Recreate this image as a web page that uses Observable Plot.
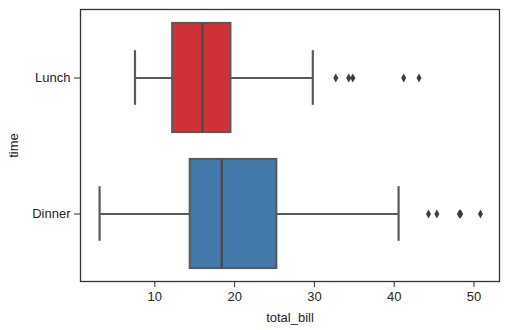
<!DOCTYPE html>
<html>
<head>
<meta charset="utf-8">
<script src="https://cdn.jsdelivr.net/npm/d3@7"></script>
<script src="https://cdn.jsdelivr.net/npm/@observablehq/plot@0.6"></script>
<style>
  html, body { margin: 0; padding: 0; background: #fff; }
  #chart svg { display: block; }
</style>
</head>
<body>
<div id="chart"></div>
<script>
// Summary statistics
const times = ["Lunch", "Dinner"];
const whiskerLow = [7.51, 3.07];
const q1 = [12.24, 14.44];
const median = [15.97, 18.39];
const q3 = [19.53, 25.28];
const whiskerHigh = [29.80, 40.55];
const colors = ["#cf3236", "#4479ad"];
const outlierTime = ["Lunch", "Lunch", "Lunch", "Lunch", "Lunch",
                     "Dinner", "Dinner", "Dinner", "Dinner", "Dinner", "Dinner"];
const outlierBill = [32.68, 34.30, 34.81, 41.19, 43.11,
                     44.30, 45.35, 48.17, 48.27, 48.33, 50.81];
const xTicks = [10, 20, 30, 40, 50];

const boxes = times.map((t, i) => ({
  time: t, lo: whiskerLow[i], q1: q1[i], med: median[i], q3: q3[i], hi: whiskerHigh[i], color: colors[i]
}));
const outliers = outlierBill.map((v, i) => ({time: outlierTime[i], bill: v}));

const thinDiamond = {
  draw(context, size) {
    const h = Math.sqrt(size) * 0.95;
    const w = h * 0.55;
    context.moveTo(0, -h);
    context.lineTo(w, 0);
    context.lineTo(0, h);
    context.lineTo(-w, 0);
    context.closePath();
  }
};

const lineColor = "#5a5a5a";
const W = 517, H = 330;
const mL = 80, mR = 18, mT = 9, mB = 49;
const bandPx = (H - mT - mB) / 2 * 0.8;
const capInset = bandPx * 0.25;

const chart = Plot.plot({
  width: W,
  height: H,
  marginLeft: mL,
  marginRight: mR,
  marginTop: mT,
  marginBottom: mB,
  style: {fontFamily: "'Liberation Sans', Arial, sans-serif", fontSize: "13px", color: "#262626", background: "#fff"},
  x: {domain: [0.68, 53.2]},
  y: {domain: times, type: "band", paddingInner: 0.2, paddingOuter: 0.1},
  marks: [
    Plot.ruleY(boxes, {y: "time", x1: "lo", x2: "q1", stroke: lineColor, strokeWidth: 2.2}),
    Plot.ruleY(boxes, {y: "time", x1: "q3", x2: "hi", stroke: lineColor, strokeWidth: 2.2}),
    Plot.tickX(boxes, {x: "lo", y: "time", stroke: lineColor, strokeWidth: 2.2, insetTop: capInset, insetBottom: capInset}),
    Plot.tickX(boxes, {x: "hi", y: "time", stroke: lineColor, strokeWidth: 2.2, insetTop: capInset, insetBottom: capInset}),
    Plot.barX(boxes, {y: "time", x1: "q1", x2: "q3", fill: "color", stroke: lineColor, strokeWidth: 2.2}),
    Plot.tickX(boxes, {x: "med", y: "time", stroke: "#4a4a4a", strokeWidth: 2.4}),
    Plot.dot(outliers, {x: "bill", y: "time", symbol: thinDiamond, r: 2.7, fill: "#3d3d3d", stroke: "none"}),
    Plot.frame({stroke: "#333", strokeWidth: 1.3}),
    Plot.axisX({ticks: xTicks, tickSize: 6, tickPadding: 4, stroke: "#333", label: "total_bill", labelAnchor: "center", labelArrow: "none", labelOffset: 40, fontSize: 13}),
    Plot.axisY({tickSize: 6, tickPadding: 4, stroke: "#333", label: "time", labelAnchor: "center", labelArrow: "none", labelOffset: 72, fontSize: 13})
  ]
});
document.getElementById("chart").appendChild(chart);
</script>
</body>
</html>
